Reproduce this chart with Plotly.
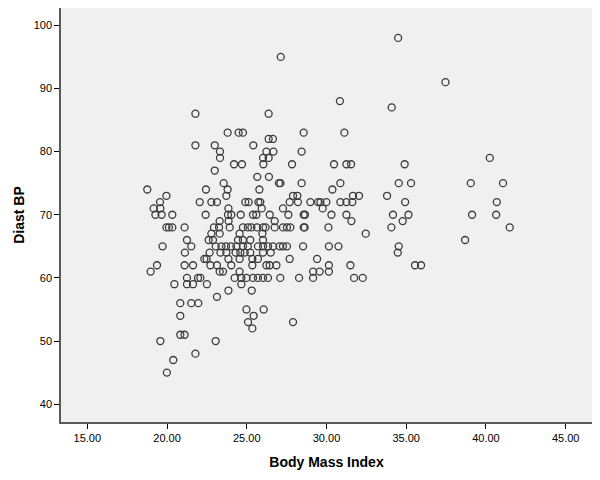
import plotly.graph_objects as go

# Body Mass Index vs Diastolic BP (grouped by BP)
bmi = [
    34.49, 27.13, 37.46, 30.84, 34.09,
    21.78, 26.37,
    23.80, 24.49, 24.76, 28.57, 31.12,
    26.37, 26.64,
    21.78, 22.99, 25.41,
    23.32, 26.23, 26.67, 28.44,
    23.32, 26.02, 26.37, 40.24,
    24.20, 24.70, 26.04, 27.84, 30.47, 31.25, 31.54, 34.90,
    22.99,
    25.66, 26.39,
    23.55, 27.02, 27.11, 28.44, 30.87, 34.53, 35.30, 39.05, 41.07,
    18.76, 22.44, 23.80, 25.79, 30.37,
    19.96, 23.72, 27.90, 28.17, 31.66, 32.04, 33.80,
    19.56, 22.05, 22.78, 23.13, 24.91, 25.12, 25.73, 25.85, 27.69, 28.21,
    28.99, 29.47, 29.62, 29.99, 30.87, 31.25, 31.62, 34.93, 40.68,
    19.16, 19.58, 23.85, 25.94, 27.27, 29.76,
    19.27, 19.66, 20.33, 22.42, 23.82, 24.03, 24.62, 25.39, 25.60, 26.44,
    27.61, 28.57, 28.65, 30.31, 31.25, 34.17, 35.14, 39.13, 40.64,
    23.30, 23.86, 26.75, 31.56, 34.78,
    19.96, 20.12, 20.33, 21.10, 22.94, 23.26, 23.93, 24.76, 25.07, 25.29,
    25.64, 26.02, 26.18, 26.75, 27.27, 27.52, 27.73, 28.57, 28.63, 30.12,
    34.07, 41.49,
    22.78, 23.30, 24.55, 25.98, 32.46,
    21.25, 22.61, 22.88, 24.45, 24.76, 25.22, 26.02, 38.69,
    19.72, 21.52, 23.05, 23.41, 23.70, 24.01, 24.35, 24.76, 25.07, 25.70,
    26.02, 26.33, 26.65, 27.06, 27.27, 27.52, 28.53, 30.15, 30.75, 34.53,
    21.12, 22.67, 23.35, 23.72, 24.30, 24.60, 24.87, 25.22, 26.02, 26.50, 34.47,
    22.34, 22.48, 23.85, 24.55, 25.35, 25.70, 27.69, 29.41,
    19.37, 21.10, 21.63, 22.72, 23.13, 24.03, 25.35, 26.23, 26.44, 26.86,
    30.15, 31.50, 35.55, 35.93,
    18.97, 23.30, 23.51, 24.55, 29.16, 29.57, 30.15,
    21.25, 21.94, 22.09, 24.24, 24.66, 24.98, 25.39, 25.70, 26.02, 26.33,
    27.10, 28.28, 29.16, 31.73, 32.27,
    20.46, 21.25, 21.63, 22.50, 24.66,
    23.85, 25.31,
    23.13,
    20.83, 21.52, 21.96,
    24.98, 26.06,
    20.83, 25.43,
    25.08, 27.90,
    25.35,
    20.83, 21.10,
    19.58, 23.05,
    21.78, 20.39, 19.99,
]

diast_bp = [
    98, 95, 91, 88, 87,
    86, 86,
    83, 83, 83, 83, 83,
    82, 82,
    81, 81, 81,
    80, 80, 80, 80,
    79, 79, 79, 79,
    78, 78, 78, 78, 78, 78, 78, 78,
    77,
    76, 76,
    75, 75, 75, 75, 75, 75, 75, 75, 75,
    74, 74, 74, 74, 74,
    73, 73, 73, 73, 73, 73, 73,
    72, 72, 72, 72, 72, 72, 72, 72, 72, 72,
    72, 72, 72, 72, 72, 72, 72, 72, 72,
    71, 71, 71, 71, 71, 71,
    70, 70, 70, 70, 70, 70, 70, 70, 70, 70,
    70, 70, 70, 70, 70, 70, 70, 70, 70,
    69, 69, 69, 69, 69,
    68, 68, 68, 68, 68, 68, 68, 68, 68, 68,
    68, 68, 68, 68, 68, 68, 68, 68, 68, 68,
    68, 68,
    67, 67, 67, 67, 67,
    66, 66, 66, 66, 66, 66, 66, 66,
    65, 65, 65, 65, 65, 65, 65, 65, 65, 65,
    65, 65, 65, 65, 65, 65, 65, 65, 65, 65,
    64, 64, 64, 64, 64, 64, 64, 64, 64, 64, 64,
    63, 63, 63, 63, 63, 63, 63, 63,
    62, 62, 62, 62, 62, 62, 62, 62, 62, 62,
    62, 62, 62, 62,
    61, 61, 61, 61, 61, 61, 61,
    60, 60, 60, 60, 60, 60, 60, 60, 60, 60,
    60, 60, 60, 60, 60,
    59, 59, 59, 59, 59,
    58, 58,
    57,
    56, 56, 56,
    55, 55,
    54, 54,
    53, 53,
    52,
    51, 51,
    50, 50,
    48, 47, 45,
]

x_ticks = [15, 20, 25, 30, 35, 40, 45]
x_tick_labels = ["15.00", "20.00", "25.00", "30.00", "35.00", "40.00", "45.00"]
y_ticks = [40, 50, 60, 70, 80, 90, 100]

fig = go.Figure()
fig.add_trace(go.Scatter(
    x=bmi, y=diast_bp, mode="markers",
    marker=dict(symbol="circle-open", size=7, color="#3a3a3a", line=dict(width=1.3)),
    showlegend=False,
))

axis_style = dict(
    showgrid=False, zeroline=False, automargin=False,
    showline=True, linecolor="#5a5a5a", linewidth=1.5, mirror=True,
    ticks="outside", ticklen=5, tickwidth=1.2, tickcolor="#000000",
    tickfont=dict(family="Liberation Sans, Arial, sans-serif", size=11, color="#000000"),
    title_font=dict(family="Liberation Sans, Arial, sans-serif", size=14, color="#000000"),
)

# the page body adds an 8px offset, so margins are shifted to compensate
fig.update_layout(
    width=600, height=480,
    margin=dict(l=53, r=16, t=0, b=66),
    paper_bgcolor="white",
    plot_bgcolor="#f0f0f0",
    xaxis=dict(axis_style, range=[13.35, 46.65], tickvals=x_ticks, ticktext=x_tick_labels,
               title=dict(text="<b>Body Mass Index</b>", standoff=14)),
    yaxis=dict(axis_style, range=[37.18, 102.74], tickvals=y_ticks,
               title=dict(text="<b>Diast BP</b>", standoff=6)),
)

fig.write_html("out.html")
